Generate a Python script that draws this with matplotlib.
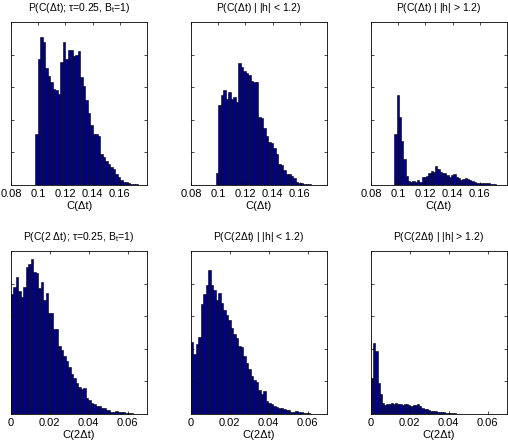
import numpy as np
import matplotlib
matplotlib.use("Agg")
import matplotlib.pyplot as plt

plt.rcParams['font.family'] = ['Liberation Sans', 'DejaVu Sans']
plt.rcParams['mathtext.fontset'] = 'custom'
plt.rcParams['mathtext.rm'] = 'Liberation Sans'
plt.rcParams['mathtext.it'] = 'Liberation Sans'

# ---- data (bin counts, y-axis 0..1000) ----
top_xticks = [0.08, 0.10, 0.12, 0.14, 0.16]
top_xticklabels = ["0.08", "0.1", "0.12", "0.14", "0.16"]
bot_xticks = [0.0, 0.02, 0.04, 0.06]
bot_xticklabels = ["0", "0.02", "0.04", "0.06"]

titles = [
    r"P(C($\Delta$t); $\tau$=0.25, B$_\mathregular{t}$=1)",
    r"P(C($\Delta$t) | |h| < 1.2)",
    r"P(C($\Delta$t) | |h| > 1.2)",
    r"P(C(2 $\Delta$t); $\tau$=0.25, B$_\mathregular{t}$=1)",
    r"P(C(2$\Delta$t) | |h| < 1.2)",
    r"P(C(2$\Delta$t) | |h| > 1.2)",
]
xlabels = ["C(\u0394t)"] * 3 + ["C(2\u0394t)"] * 3

# histogram bin starts and widths
bin_start = [0.09769, 0.09838, 0.09716, 0.0, 0.0, 0.0]
bin_width = [0.001843, 0.001838, 0.001667, 0.00128, 0.00128, 0.001127]

counts_all = [
    [310, 770, 910, 880, 720, 670, 630, 590, 580, 560, 755, 880, 775, 830, 830, 790,
     800, 820, 660, 610, 520, 440, 370, 310, 310, 300, 190, 170, 150, 130, 110, 100,
     70, 50, 30, 20, 20, 14, 6, 4, 4, 2],
    [75, 490, 550, 585, 530, 570, 525, 540, 510, 750, 725, 700, 690, 675, 640, 630,
     630, 420, 410, 350, 300, 265, 255, 225, 190, 130, 120, 95, 70, 67, 55, 40, 20,
     15, 10, 8, 6, 4],
    [310, 550, 420, 270, 160, 55, 27, 20, 25, 20, 30, 20, 50, 50, 57, 72, 86, 78,
     117, 100, 82, 76, 72, 62, 50, 62, 68, 50, 41, 30, 35, 41, 37, 30, 25, 20, 14,
     14, 14, 10, 10, 10, 6, 4, 4, 2],
    [734, 780, 840, 755, 720, 780, 900, 918, 950, 870, 865, 770, 810, 700, 740, 620,
     620, 520, 520, 420, 390, 357, 326, 290, 247, 223, 190, 165, 155, 157, 100, 85,
     68, 62, 52, 47, 37, 37, 27, 27, 12, 12, 16, 12, 10, 10, 6, 4, 4, 2, 2],
    [440, 370, 430, 470, 676, 734, 790, 882, 790, 763, 700, 742, 680, 640, 610, 577,
     530, 490, 466, 420, 410, 357, 310, 274, 233, 206, 198, 150, 120, 144, 78, 68,
     62, 47, 41, 37, 37, 33, 27, 27, 12, 12, 16, 12, 10, 6, 4, 4, 2],
    [223, 433, 388, 190, 124, 68, 54, 62, 62, 68, 62, 66, 62, 62, 58, 62, 62, 58, 52,
     58, 54, 62, 47, 37, 33, 33, 27, 20, 20, 16, 14, 12, 10, 10, 8, 6, 6, 4, 4, 2, 2],
]

W, H = 508, 442
fig = plt.figure(figsize=(W / 100, H / 100), dpi=100)

lefts = [11, 191, 371]
tops = [22, 251]
aw, ah = 136, 163

face = '#00008F'
for i in range(6):
    r, c = divmod(i, 3)
    ax = fig.add_axes([lefts[c] / W, 1 - (tops[r] + ah) / H, aw / W, ah / H])
    cts = np.array(counts_all[i], dtype=float)
    edges = bin_start[i] + bin_width[i] * np.arange(len(cts) + 1)
    ax.bar(edges[:-1], cts, width=bin_width[i], align='edge', color=face,
           edgecolor='black', linewidth=0.4)
    ax.set_ylim(0, 1000)
    ax.set_yticks([200, 400, 600, 800])
    ax.set_yticklabels([])
    if r == 0:
        ax.set_xlim(0.08, 0.18)
        ax.set_xticks(top_xticks)
        ax.set_xticklabels(top_xticklabels)
    else:
        ax.set_xlim(0.0, 0.07)
        ax.set_xticks(bot_xticks)
        ax.set_xticklabels(bot_xticklabels)
    ax.tick_params(direction='in', length=2.5, width=0.5, top=True, right=True,
                   labelsize=8, pad=3, colors='black')
    for s in ax.spines.values():
        s.set_linewidth(0.6)
    ax.set_title(titles[i], fontsize=7.5, pad=8)
    ax.set_xlabel(xlabels[i], fontsize=8, labelpad=1)

fig.savefig("out.png", dpi=100)
